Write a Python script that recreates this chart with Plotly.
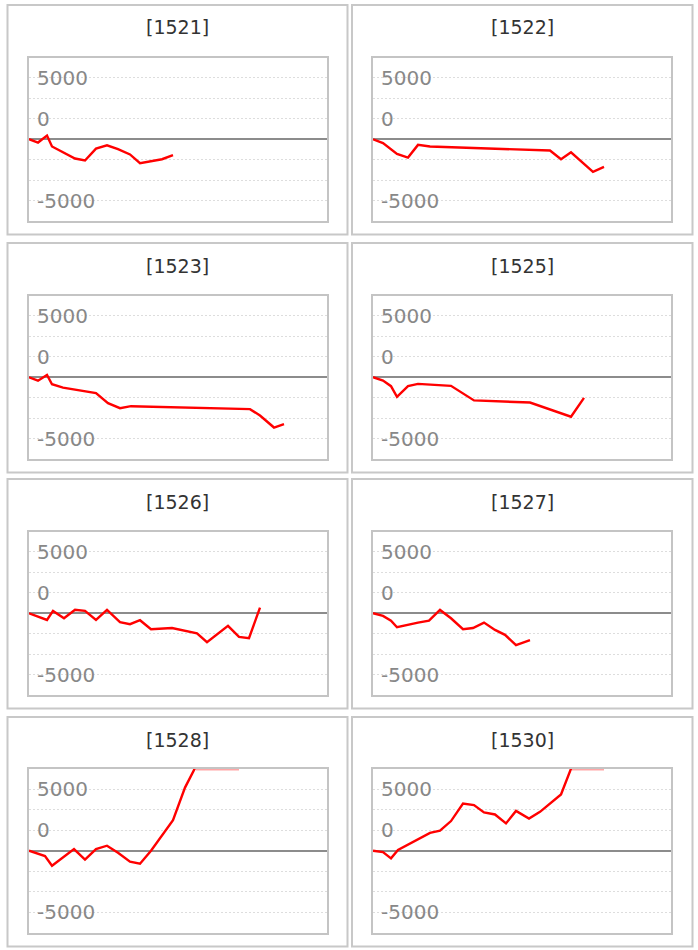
import numpy as np
import plotly.graph_objects as go

# ---------------- data ----------------
CODES = ["[1521]", "[1522]", "[1523]", "[1525]", "[1526]", "[1527]", "[1528]", "[1530]"]

X_1521 = [0, 9, 18, 23, 46, 56, 67, 78, 89, 101, 111, 133, 144]
Y_1521 = [0, -270, 300, -590, -1570, -1730, -760, -490, -810, -1240, -1950, -1630, -1300]

X_1522 = [0, 10, 24, 35, 45, 57, 177, 188, 198, 208, 220, 231]
Y_1522 = [0, -320, -1190, -1490, -460, -590, -920, -1630, -1060, -1760, -2660, -2250]

X_1523 = [0, 9, 18, 23, 34, 67, 79, 91, 102, 221, 231, 245, 255]
Y_1523 = [0, -280, 190, -570, -850, -1300, -2110, -2520, -2360, -2600, -3120, -4100, -3820]

X_1525 = [0, 10, 18, 24, 35, 45, 78, 101, 157, 198, 211]
Y_1525 = [0, -270, -730, -1590, -730, -540, -700, -1890, -2060, -3220, -1680]

X_1526 = [0, 18, 24, 35, 46, 56, 67, 78, 91, 101, 111, 122, 143, 168, 178, 199, 210, 220, 231]
Y_1526 = [0, -550, 190, -410, 290, 190, -550, 270, -730, -890, -570, -1300, -1200, -1630,
          -2360, -1030, -1930, -2030, 460]

X_1527 = [0, 10, 18, 24, 45, 56, 67, 78, 90, 100, 111, 122, 132, 143, 157]
Y_1527 = [0, -220, -600, -1140, -760, -600, 270, -410, -1300, -1200, -760, -1360, -1760, -2600, -2200]

X_1528 = [0, 16, 23, 45, 56, 67, 78, 89, 101, 111, 122, 133, 144, 156, 167, 178, 188, 199, 210]
Y_1528 = [0, -430, -1220, 140, -730, 140, 410, -160, -890, -1060, 0, 1200, 2500, 5150,
          6900, 7600, 8300, 8000, 8700]

X_1530 = [0, 10, 18, 25, 57, 67, 78, 90, 101, 111, 122, 133, 143, 156, 167, 188, 199, 210, 220, 231]
Y_1530 = [0, -110, -620, 60, 1460, 1630, 2420, 3850, 3720, 3120, 2960, 2230, 3250, 2630, 3170,
          4590, 6900, 7700, 8100, 8400]

SERIES_X = [X_1521, X_1522, X_1523, X_1525, X_1526, X_1527, X_1528, X_1530]
SERIES_Y = [Y_1521, Y_1522, Y_1523, Y_1525, Y_1526, Y_1527, Y_1528, Y_1530]

TICK_VALS = [5000, 5000 / 3, -5000]
TICK_TEXT = ["5000", "0", "-5000"]
GRID_STEP = 5000 / 3
Y_MAX = 20000 / 3
X_MAX = 298

# ---------------- layout geometry (screen pixels; page body margin removed) ----------------
W, H = 698, 950
PLOT_LEFT = [29, 373]
PLOT_W = 298
PLOT_TOP = [57.5, 295.5, 531.5, 769]
PLOT_H = 163.5
BOX_X = [(7.5, 347.5), (352, 692.5)]
BOX_TOP = [5, 243, 479, 717]
BOX_H = 229.5


def px(v):
    return v / W


def py(v):
    return 1 - v / H


fig = go.Figure()
shapes = []
annotations = []
layout_axes = {}

for i, (code, xs, ys) in enumerate(zip(CODES, SERIES_X, SERIES_Y)):
    row, col = divmod(i, 2)
    n = i + 1
    xa = "x" if n == 1 else f"x{n}"
    ya = "y" if n == 1 else f"y{n}"
    xkey = "xaxis" if n == 1 else f"xaxis{n}"
    ykey = "yaxis" if n == 1 else f"yaxis{n}"

    l = PLOT_LEFT[col]
    t = PLOT_TOP[row]
    layout_axes[xkey] = dict(
        domain=[px(l), px(l + PLOT_W)], anchor=ya, range=[0, X_MAX],
        showticklabels=False, showgrid=False, zeroline=False, ticks="",
        showline=True, mirror=True, linecolor="#c4c4c4", linewidth=2, fixedrange=True,
    )
    layout_axes[ykey] = dict(
        domain=[py(t + PLOT_H), py(t)], anchor=xa, range=[-Y_MAX, Y_MAX],
        tickmode="array", tickvals=TICK_VALS, ticktext=TICK_TEXT,
        ticklabelposition="inside", ticks="", ticklabelstandoff=9,
        tickfont=dict(family="DejaVu Sans", size=20, color="#888888"),
        showgrid=True, gridcolor="#dddddd", gridwidth=1, griddash="2px,2px",
        minor=dict(tick0=0, dtick=GRID_STEP, showgrid=True, gridcolor="#dddddd",
                   gridwidth=1, griddash="2px,2px", ticks=""),
        zeroline=True, zerolinecolor="#8c8c8c", zerolinewidth=2,
        showline=True, mirror=True, linecolor="#c4c4c4", linewidth=2, fixedrange=True,
    )

    yarr = np.array(ys, dtype=float)
    fig.add_trace(go.Scatter(x=xs, y=ys, mode="lines", xaxis=xa, yaxis=ya,
                             line=dict(color="#ff0000", width=2.4), hoverinfo="skip",
                             showlegend=False))
    over = np.where(yarr >= Y_MAX, Y_MAX, np.nan)
    if np.any(~np.isnan(over)):
        fig.add_trace(go.Scatter(x=xs, y=over, mode="lines", xaxis=xa, yaxis=ya,
                                 line=dict(color="rgba(255,0,0,0.35)", width=3),
                                 hoverinfo="skip", showlegend=False))

    bx0, bx1 = BOX_X[col]
    bt = BOX_TOP[row]
    shapes.append(dict(type="rect", xref="paper", yref="paper",
                       x0=px(bx0), x1=px(bx1), y0=py(bt + BOX_H), y1=py(bt),
                       line=dict(color="#c8c8c8", width=2), fillcolor="rgba(0,0,0,0)",
                       layer="below"))
    annotations.append(dict(text=code, xref="paper", yref="paper",
                            x=px((bx0 + bx1) / 2), y=py(bt + 22.5),
                            xanchor="center", yanchor="middle", showarrow=False,
                            font=dict(family="DejaVu Sans", size=19, color="#333333")))

fig.update_layout(
    width=W, height=H, margin=dict(l=0, r=0, t=0, b=0),
    paper_bgcolor="white", plot_bgcolor="white",
    shapes=shapes, annotations=annotations, showlegend=False,
    **layout_axes,
)

fig.write_html(
    "out.html",
    config={"displayModeBar": False},
    post_script="document.body.style.margin='0';document.body.style.overflow='hidden';",
)
